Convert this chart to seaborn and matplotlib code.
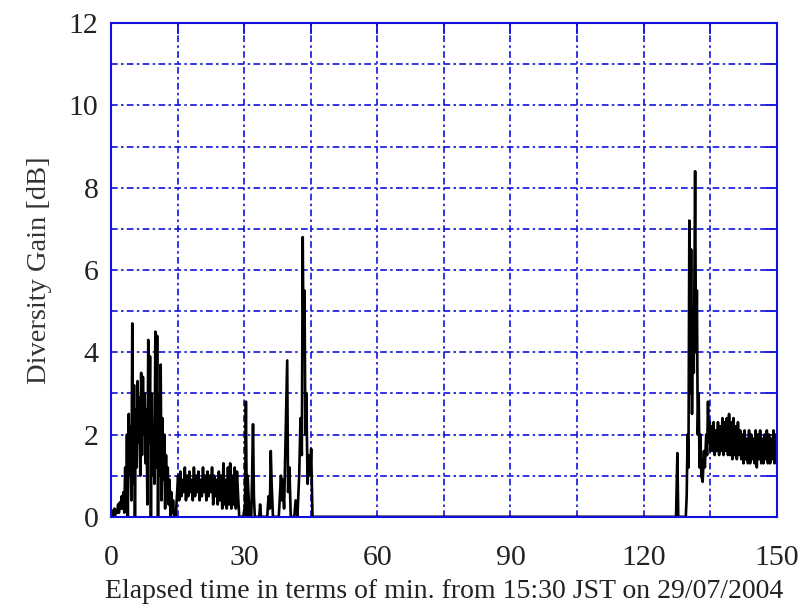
import numpy as np
import pandas as pd
import matplotlib
matplotlib.use("Agg")
import matplotlib.pyplot as plt
import seaborn as sns

# diversity gain readings
burst1 = [0.1, 0.0, 0.15, 0.05, 0.2, 0.05, 0.15, 0.1, 0.3, 0.1, 0.35, 0.2, 0.5, 0.2, 0.6, 0.1,
          1.2, 0.3, 2.0, 0.0, 2.5, 1.0, 2.2, 0.4, 4.7, 0.8, 3.2, 0.0, 2.6, 1.2, 3.3, 1.8,
          2.9, 1.0, 3.5, 1.5, 3.4, 2.0, 3.0, 1.3, 2.6, 0.3, 4.3, 1.8, 3.9, 0.0, 3.0, 1.0,
          2.2, 0.8, 4.5, 1.2, 4.4, 0.0, 3.0, 1.0, 3.7, 0.4, 2.4, 0.9, 2.0, 0.2, 1.5, 0.6,
          1.2, 0.3, 0.9, 0.0, 0.6, 0.1, 0.4, 0.0, 0.0]
band1 = [0.0, 0.5, 1.0, 0.4, 1.1, 0.5, 0.9, 0.6, 1.2, 0.4, 1.0, 0.5, 1.1, 0.6, 0.9, 0.4,
         1.2, 0.5, 1.0, 0.6, 1.1, 0.4, 0.9, 0.5, 1.2, 0.6, 1.0, 0.4, 1.1, 0.5, 1.0, 0.6,
         1.2, 0.3, 1.0, 0.5, 0.9, 0.3, 1.1, 0.4, 1.0, 0.2, 1.3, 0.3, 0.9, 0.2, 1.2, 0.3,
         1.3, 0.2, 1.0, 0.3, 1.2, 0.2, 1.1, 0.5, 0.0]
t_mid = [29.0, 29.8, 30.2, 30.4, 30.6, 30.8, 31.2, 31.6, 31.8, 32.0, 32.2, 32.4, 32.8, 33.4,
         33.6, 33.8, 35.2, 35.5, 35.8, 36.0, 36.2, 36.5, 37.8, 38.1, 38.3, 38.5, 38.7, 39.0,
         39.3, 39.7, 39.9, 40.2, 40.5, 41.3, 41.6, 42.0, 42.4, 42.7, 43.0, 43.2, 43.4, 43.6,
         43.8, 44.0, 44.3, 44.6, 44.9, 45.1, 45.4, 46.0]
g_mid = [0.0, 0.0, 0.3, 2.8, 0.0, 1.0, 0.0, 0.0, 1.0, 2.25, 0.5, 0.0, 0.0, 0.0,
         0.3, 0.0, 0.0, 0.5, 0.2, 1.6, 0.8, 0.0, 0.0, 0.6, 1.0, 0.4, 0.9, 0.2,
         1.8, 3.8, 0.6, 1.2, 0.0, 0.0, 0.4, 0.0, 1.0, 2.4, 1.5, 6.8, 4.0, 5.5,
         2.0, 3.0, 0.8, 1.5, 1.0, 1.65, 0.0, 0.0]
t_peak = [127.3, 127.6, 127.8, 129.5, 129.7, 129.9, 130.1, 130.3, 130.5, 130.7, 130.9, 131.1,
          131.3, 131.6, 131.8, 132.0, 132.2, 132.4, 132.6, 132.8, 133.0, 133.3, 133.6, 133.8,
          134.1, 134.3, 134.5, 134.7, 134.9, 135.1]
g_peak = [0.0, 1.55, 0.0, 0.0, 0.5, 2.0, 1.2, 7.2, 3.0, 6.5, 2.5, 5.0,
          3.5, 8.4, 4.0, 5.5, 2.0, 3.0, 1.2, 2.0, 1.0, 0.85, 1.6, 1.2,
          2.0, 1.5, 2.8, 1.8, 2.3, 1.6]
band2 = [2.2, 1.6, 2.3, 1.5, 2.1, 1.6, 2.3, 1.5, 2.2, 1.6, 2.4, 1.5, 2.3, 1.6, 2.4, 1.5,
         2.5, 1.5, 2.3, 1.4, 2.4, 1.5, 2.2, 1.4, 2.3, 1.5, 2.1, 1.4,
         2.0, 1.3, 2.1, 1.4, 1.9, 1.3, 2.1, 1.3, 2.0, 1.4, 1.9, 1.3, 2.1, 1.2, 2.0, 1.4,
         2.1, 1.3, 1.9, 1.3, 2.0, 1.4, 2.1, 1.3, 2.0, 1.3, 1.9, 1.4, 2.1, 1.3, 2.0, 1.5]

t = np.concatenate([np.linspace(0, 14.4, len(burst1)),
                    np.linspace(14.6, 28.9, len(band1)),
                    t_mid, t_peak,
                    np.linspace(135.25, 150, len(band2))])
g = np.concatenate([burst1, band1, g_mid, g_peak, band2])
df = pd.DataFrame({"t": t, "gain": g})

sns.set_style("white")
plt.rcParams["font.family"] = ["Liberation Serif", "DejaVu Serif"]

fig = plt.figure(figsize=(8.1, 6.08), dpi=100)
ax = fig.add_axes([0.137, 0.150, 0.822, 0.812])
sns.lineplot(data=df, x="t", y="gain", estimator=None, sort=False,
             color="black", linewidth=1.9, ax=ax)

blue = "#1010e0"
ax.set_xlim(0, 150)
ax.set_ylim(0, 12)
ax.set_xticks(range(0, 151, 30))
ax.set_xticks(range(15, 151, 30), minor=True)
ax.set_yticks(range(0, 13, 2))
ax.set_yticks(range(1, 13, 2), minor=True)
ax.grid(True, which="both", color=blue, linestyle=(0, (4, 2, 1.5, 2)), linewidth=1.2)
for sp in ax.spines.values():
    sp.set_color(blue)
    sp.set_linewidth(1.5)
    sp.set_visible(True)
ax.tick_params(which="both", direction="in", color=blue, top=True, right=True,
               length=8, width=1.3, labelsize=21.5, labelcolor="#222222")
ax.tick_params(axis="x", pad=20)
ax.tick_params(axis="y", pad=9)
ax.set_xlabel("Elapsed time in terms of min. from 15:30 JST on 29/07/2004",
              fontsize=20, color="#222222", labelpad=6)
ax.set_ylabel("Diversity Gain [dB]", fontsize=20.5, color="#333333", labelpad=12)

fig.savefig("out.png", dpi=100)
